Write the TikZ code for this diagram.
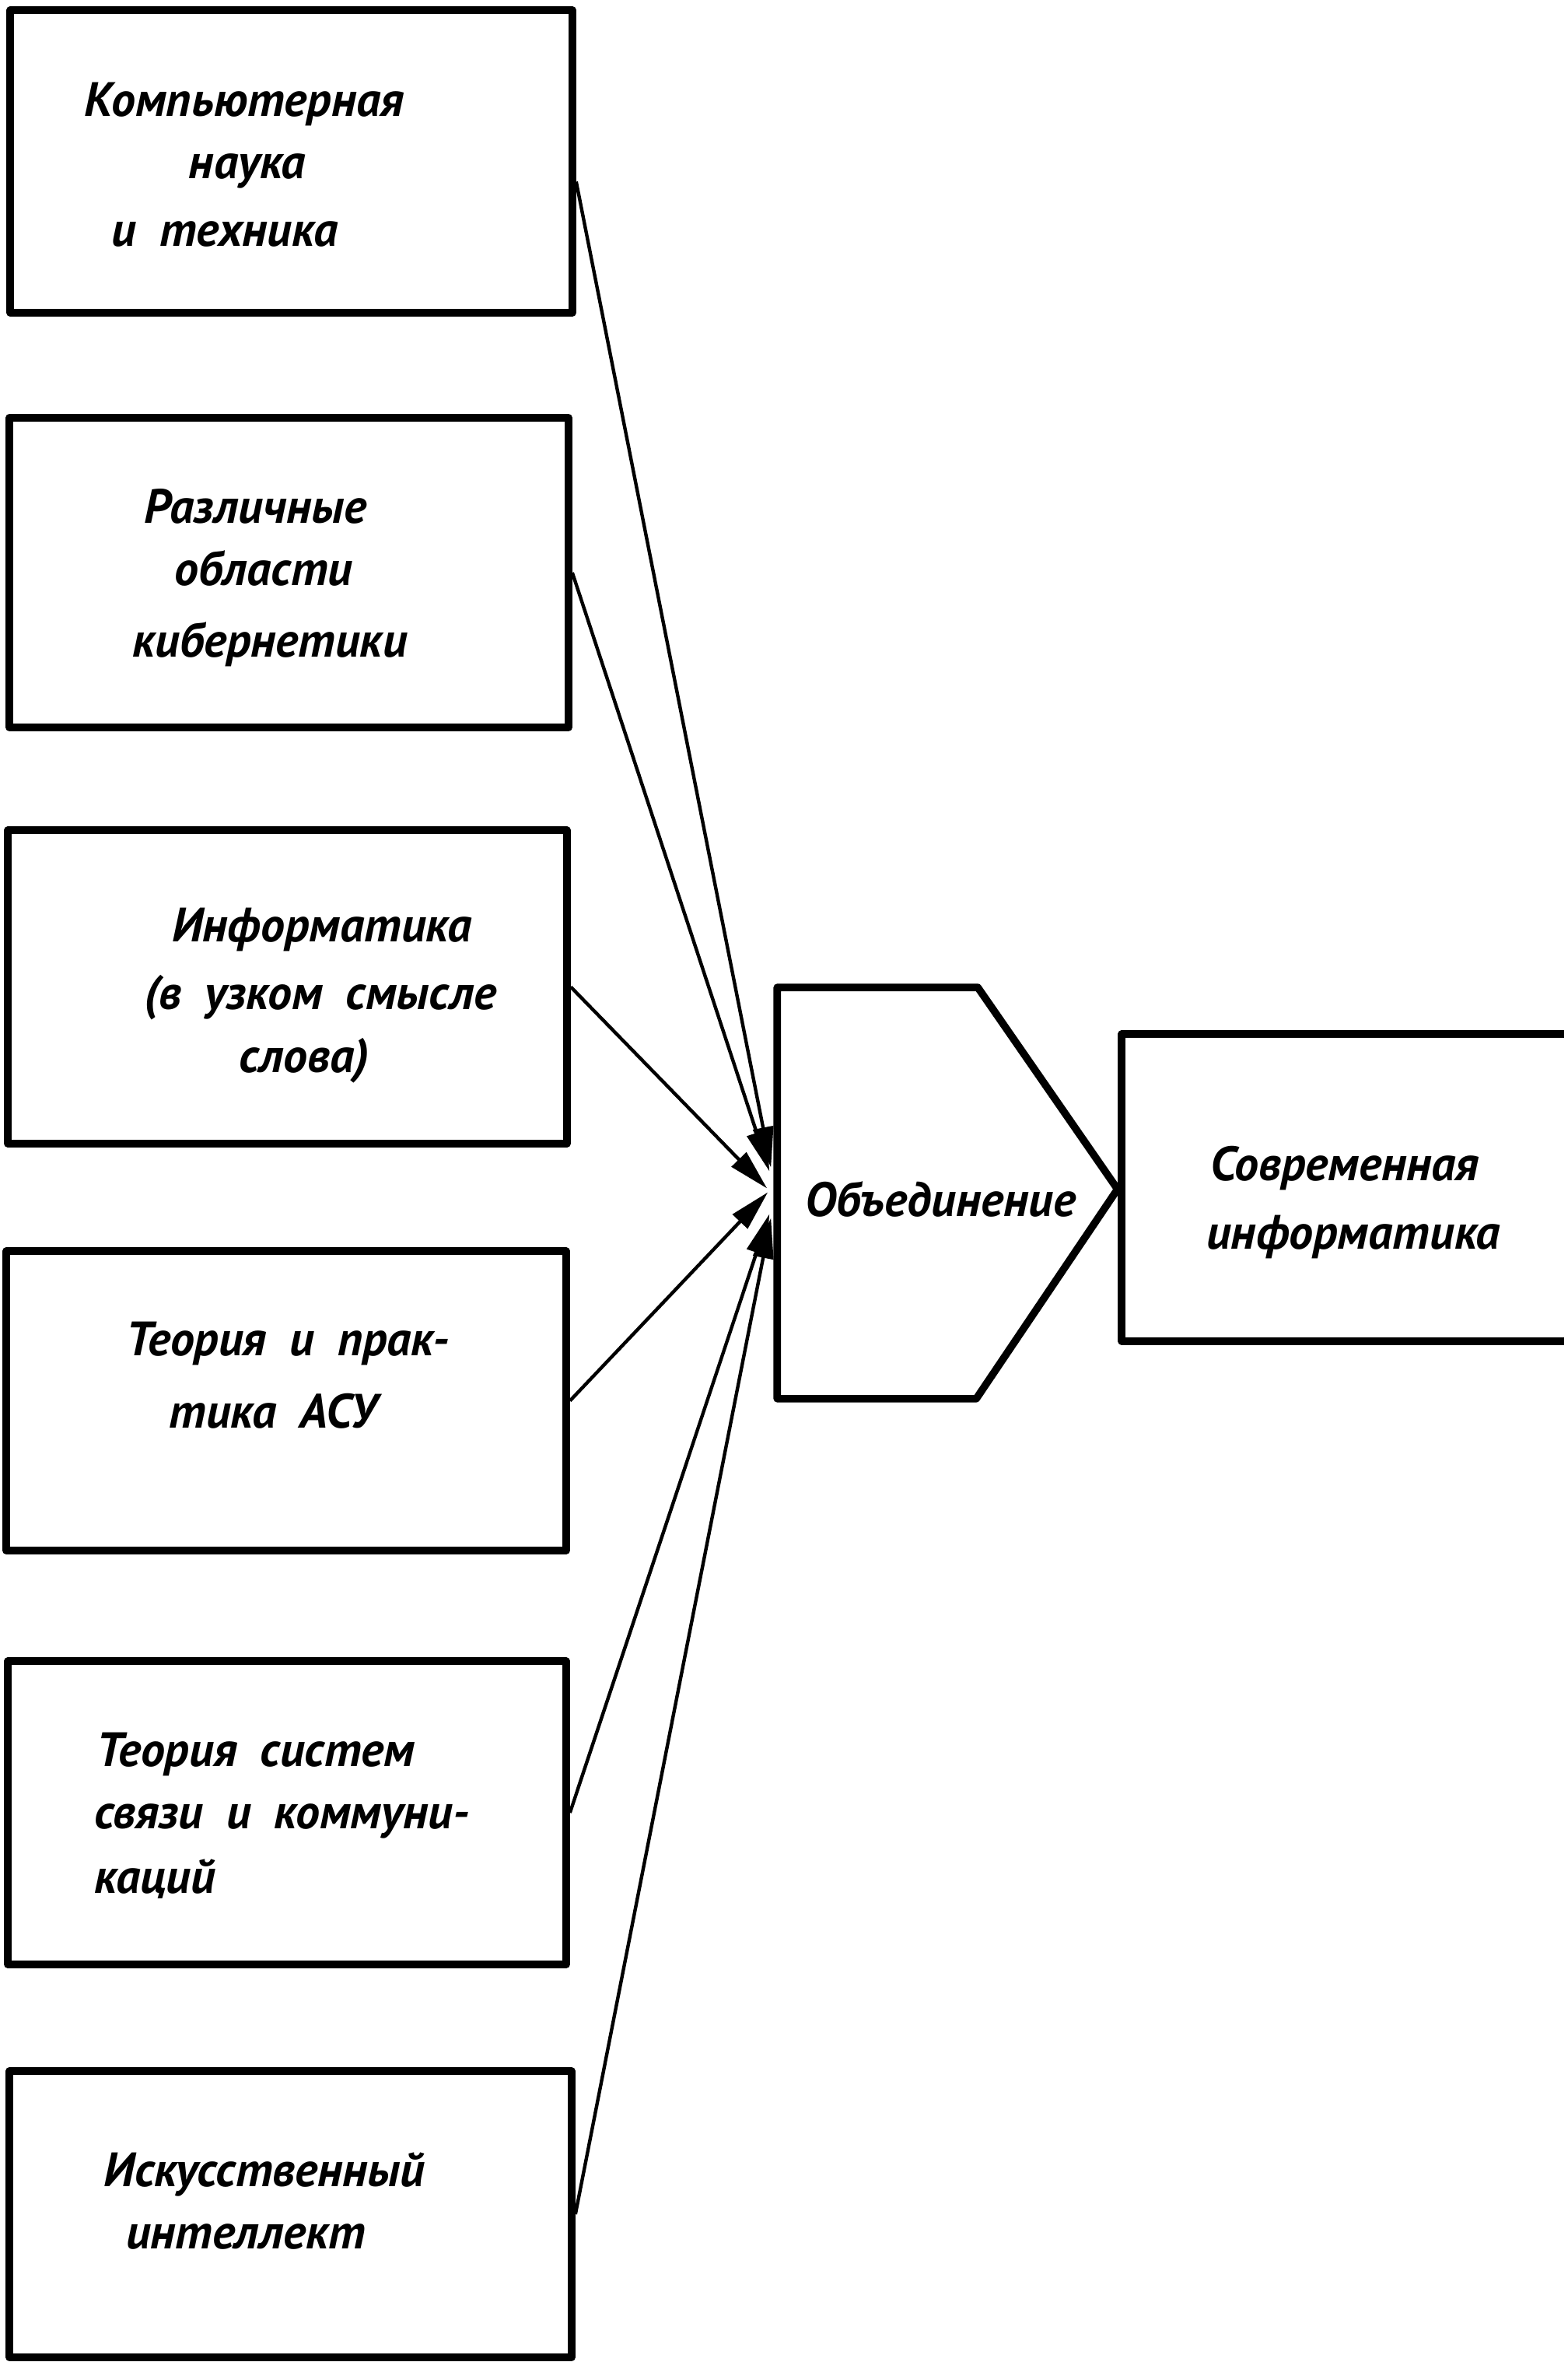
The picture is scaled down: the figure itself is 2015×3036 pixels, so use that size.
\documentclass[tikz,border=0pt]{standalone}
\usepackage{fontspec}
\setmainfont{PT Sans}[WordSpace=1.9]
\usetikzlibrary{arrows.meta,calc,fit}
\begin{document}
\begin{tikzpicture}[x=0.25pt,y=-0.25pt,
  frame/.style={draw,line width=2.4pt,line join=round,line cap=round},
  box/.style={frame,rectangle,inner sep=0pt},
  area/.style={rectangle,inner sep=0pt},
  lbl/.style={anchor=base,inner sep=0pt,font=\fontsize{15.5}{19}\selectfont\bfseries\itshape},
  lbll/.style={lbl,anchor=base west},
  conn/.style={line width=1.1pt,-{Triangle[length=13pt,width=6.5pt]}}
]
\useasboundingbox (0,0) rectangle (2015,3036);

% source boxes
\node[box,fit={(13,13) (736,402)}] (b1) {};
\node[box,fit={(12,537) (731,935)}] (b2) {};
\node[box,fit={(10,1067) (729,1470)}] (b3) {};
\node[box,fit={(8,1608) (728,1993)}] (b4) {};
\node[box,fit={(10,2135) (728,2525)}] (b5) {};
\node[box,fit={(12,2662) (735,3030)}] (b6) {};

% union pentagon
\node[area,fit={(1000,1270) (1436,1797)}] (un) {};
\draw[frame] (un.north west) -- ($(un.north west)+(258,0)$) -- ($(un.east)+(0,-5)$)
  -- ($(un.south west)+(256,0)$) -- (un.south west) -- cycle;

% modern informatics box (open at right)
\node[area,fit={(1443,1330) (2010,1723)}] (mod) {};
\draw[frame,line cap=butt] (mod.north east) -- (mod.north west) -- (mod.south west) -- (mod.south east);

% texts
\node[lbl] (t1a) at (314,150) {Компьютерная};
\node[lbl] (t1b) at (318,230) {наука};
\node[lbl] (t1c) at (289,317) {и техника};

\node[lbl] (t2a) at (328,673) {Различные};
\node[lbl] (t2b) at (339,753) {области};
\node[lbl] (t2c) at (347,845) {кибернетики};

\node[lbl] (t3a) at (414,1210) {Информатика};
\node[lbl] (t3b) at (412,1297) {(в узком смысле};
\node[lbl] (t3c) at (391,1378) {слова)};

\node[lbl] (t4a) at (370,1742) {Теория и прак-};
\node[lbl] (t4b) at (351,1835) {тика АСУ};

\node[lbll] (t5a) at (124,2270) {Теория систем};
\node[lbll] (t5b) at (121,2350) {связи и коммуни-};
\node[lbll] (t5c) at (121,2433) {каций};

\node[lbl] (t6a) at (340,2810) {Искусственный};
\node[lbl] (t6b) at (316,2890) {интеллект};

\node[lbl] (tu) at (1209,1563) {Объединение};

\node[lbl] (tma) at (1729,1517) {Современная};
\node[lbl] (tmb) at (1740,1605) {информатика};

% connectors
\draw[conn] ($(b1.east)+(0,26)$) -- ($(un.west)+(-8,-33)$);
\draw[conn] (b2.east) -- ($(un.west)+(-10,-28)$);
\draw[conn] (b3.east) -- ($(un.west)+(-13,-6)$);
\draw[conn] (b4.east) -- ($(un.west)+(-12,-1)$);
\draw[conn] (b5.east) -- ($(un.west)+(-10,27)$);
\draw[conn] (b6.east) -- ($(un.west)+(-8,32)$);
\end{tikzpicture}
\end{document}
